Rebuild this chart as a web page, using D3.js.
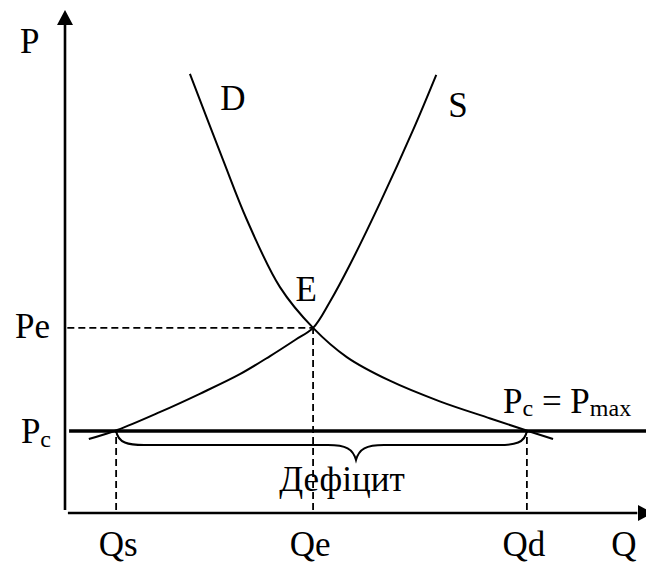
<!DOCTYPE html>
<meta charset="utf-8">
<style>
    body { margin: 0; background: #fff; }
    .curve {
        fill: none;
        stroke: #000;
        stroke-width: 2;
    }
    .axis {
        stroke: #000;
        stroke-width: 2.6;
    }
    .dash {
        stroke: #000;
        stroke-width: 1.8;
        stroke-dasharray: 7,4;
    }
</style>
<svg width="646" height="564"></svg>
<script src="https://d3js.org/d3.v7.min.js"></script>
<script>

    // demand curve D (quantity, price)
    var demandQ = [21.5, 27.2, 31.3, 37.0, 42.7, 48.5, 55.9, 64.5, 73.2, 79.7, 84.0];
    var demandP = [87.3, 70.2, 58.3, 44.9, 36.8, 31.0, 26.3, 22.2, 18.8, 16.3, 14.7];

    // supply curve S
    var supplyQ = [4.1, 9.0, 16.4, 23.2, 30.1, 35.3, 39.6, 42.7, 45.6, 49.1, 54.2, 59.9, 63.9];
    var supplyP = [14.7, 16.5, 20.1, 23.7, 27.6, 31.2, 34.4, 36.8, 42.0, 49.5, 61.6, 76.1, 87.1];

    // marked quantities and prices
    var qLabels = ["Qs", "Qe", "Qd"];
    var qValues = [8.8, 42.7, 79.5];
    var pe = 36.8;   // equilibrium price
    var pc = 16.3;   // ceiling price

    var svg = d3.select("svg");

    // 0..100 in both directions, axes sit at 0
    var x = d3.scaleLinear().domain([0, 100]).range([65, 646]);
    var y = d3.scaleLinear().domain([0, 100]).range([513, 10]);

    var line = d3.line()
        .x(function (d) { return x(d[0]); })
        .y(function (d) { return y(d[1]); })
        .curve(d3.curveCatmullRom.alpha(0.5));

    var demand = d3.zip(demandQ, demandP),
        supply = d3.zip(supplyQ, supplyP);

    // serif text, set inline (the stylesheet rule did not stick)
    function label(px, py, anchor) {
        return svg.append("text")
            .attr("x", px).attr("y", py)
            .attr("text-anchor", anchor || "start")
            .style("font-family", "'Liberation Serif'")
            .style("font-size", "35px");
    }

    // axes with arrow heads
    svg.append("line").attr("class", "axis")
        .attr("x1", x(0)).attr("x2", x(0))
        .attr("y1", y(98)).attr("y2", y(0.6));
    svg.append("path")
        .attr("d", "M" + x(0) + "," + y(100) + "l-8,15h16z");

    svg.append("line").attr("class", "axis")
        .attr("x1", x(0.5)).attr("x2", x(98.5))
        .attr("y1", y(0)).attr("y2", y(0));
    svg.append("path")
        .attr("d", "M" + (x(100) + 7) + "," + y(0) + "l-15,-8v16z");

    // dashed guides
    svg.append("line").attr("class", "dash")
        .attr("x1", x(0.4)).attr("x2", x(qValues[1]))
        .attr("y1", y(pe)).attr("y2", y(pe));
    qValues.forEach(function (q, i) {
        svg.append("line").attr("class", "dash")
            .attr("x1", x(q)).attr("x2", x(q))
            .attr("y1", y(0.6)).attr("y2", y(i == 1 ? pe : pc));
    });

    // price ceiling
    svg.append("line")
        .attr("stroke", "#000").attr("stroke-width", 3.5)
        .attr("x1", x(0.7)).attr("x2", x(100))
        .attr("y1", y(pc)).attr("y2", y(pc));

    svg.append("path").datum(demand).attr("class", "curve").attr("d", line);
    svg.append("path").datum(supply).attr("class", "curve").attr("d", line);

    // curly brace under the ceiling line, from Qs to Qd
    var bx0 = x(qValues[0]), bx1 = x(qValues[2]), tip = 356,
        by = y(pc), bh = by + 14, bt = by + 29;
    svg.append("path")
        .attr("class", "curve")
        .attr("d", "M" + bx0 + "," + by +
            "C" + (bx0 + 2) + "," + (bh - 2) + " " + (bx0 + 12) + "," + bh + " " + (bx0 + 28) + "," + bh +
            "H" + (tip - 28) +
            "C" + (tip - 10) + "," + bh + " " + (tip - 3) + "," + (bh + 4) + " " + tip + "," + bt +
            "C" + (tip + 3) + "," + (bh + 4) + " " + (tip + 10) + "," + bh + " " + (tip + 28) + "," + bh +
            "H" + (bx1 - 28) +
            "C" + (bx1 - 12) + "," + bh + " " + (bx1 - 2) + "," + (bh - 2) + " " + bx1 + "," + by);

    // labels
    label(20, 53).text("P");
    label(624, 556, "middle").text("Q");
    label(233, 110, "middle").text("D");
    label(458, 117, "middle").text("S");
    label(x(qValues[1]) - 7, y(pe) - 27, "middle").text("E");

    qLabels.forEach(function (d, i) {
        label(x(qValues[i]) + (i == 0 ? 2 : -3), 556, "middle").text(d);
    });

    label(50, y(pe) + 10, "end").text("Pe");

    var pcLabel = label(51, y(pc) + 12, "end");
    pcLabel.append("tspan").text("P");
    pcLabel.append("tspan").style("font-size", "24px").attr("dy", 4).text("c");

    var pmax = label(503, 413);
    pmax.append("tspan").text("P");
    pmax.append("tspan").style("font-size", "24px").attr("dy", 3).text("c");
    pmax.append("tspan").attr("dy", -3).text(" = P");
    pmax.append("tspan").style("font-size", "24px").attr("dy", 3).text("max");

    label(342, 491, "middle").text("Дефіцит");

</script>
